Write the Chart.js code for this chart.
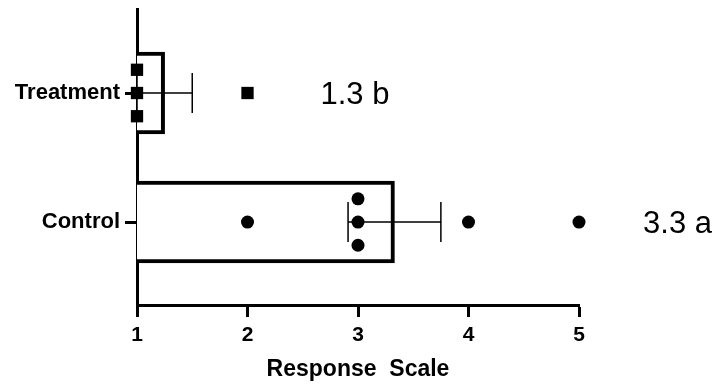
<!DOCTYPE html>
<html>
<head>
<meta charset="utf-8">
<script src="https://cdn.jsdelivr.net/npm/chart.js@4.4.1/dist/chart.umd.min.js"></script>
<style>
  html, body { margin: 0; padding: 0; background: #fff; }
  #wrap { width: 718px; height: 386px; }
</style>
</head>
<body>
<div id="wrap"><canvas id="chart"></canvas></div>
<script>
// données
const groups = ['Treatment', 'Control'];
const treatmentValues = [1, 1, 1, 2];
const controlValues = [2, 3, 3, 3, 4, 5];
const means = [1.25, 3.33];
const sems = [0.25, 0.42];
const meanLabels = ['1.3 b', '3.3 a'];
const labelAt = [2.66, 5.58];
const xTicks = [1, 2, 3, 4, 5];

const FONT = '"Liberation Sans", Arial, Helvetica, sans-serif';

// empile verticalement les valeurs identiques (comme un nuage de points)
function swarm(values, groupIndex) {
    const counts = {};
    values.forEach(v => counts[v] = (counts[v] || 0) + 1);
    const seen = {};
    return values.map(v => {
        const n = counts[v];
        const k = seen[v] = (seen[v] || 0) + 1;
        return { x: v, y: groupIndex + (k - 1 - (n - 1) / 2) * 0.18 };
    });
}

const errorBars = {
    id: 'errorBars',
    afterDatasetsDraw(chart) {
        const { ctx, scales: { x, y } } = chart;
        ctx.save();
        ctx.strokeStyle = '#000';
        ctx.lineWidth = 1.5;
        groups.forEach((g, i) => {
            const yc = y.getPixelForValue(i);
            const lo = x.getPixelForValue(means[i] - sems[i]);
            const hi = x.getPixelForValue(means[i] + sems[i]);
            ctx.beginPath();
            ctx.moveTo(lo, yc);
            ctx.lineTo(hi, yc);
            ctx.moveTo(lo, yc - 20);
            ctx.lineTo(lo, yc + 20);
            ctx.moveTo(hi, yc - 20);
            ctx.lineTo(hi, yc + 20);
            ctx.stroke();
        });
        ctx.fillStyle = '#000';
        ctx.font = '31px ' + FONT;
        ctx.textBaseline = 'middle';
        ctx.textAlign = 'left';
        groups.forEach((g, i) => {
            ctx.fillText(meanLabels[i], x.getPixelForValue(labelAt[i]), y.getPixelForValue(i) + 2);
        });
        ctx.restore();
    }
};

const ctx = document.getElementById('chart');
new Chart(ctx, {
    type: 'bar',
    data: {
        datasets: [
            {
                type: 'scatter',
                data: swarm(treatmentValues, 0),
                pointStyle: 'rect',
                pointRadius: 8.7,
                pointHoverRadius: 8.7,
                backgroundColor: '#000',
                borderWidth: 0,
                clip: false,
                order: 0
            },
            {
                type: 'scatter',
                data: swarm(controlValues, 1),
                pointStyle: 'circle',
                pointRadius: 6.5,
                pointHoverRadius: 6.5,
                backgroundColor: '#000',
                borderWidth: 0,
                clip: false,
                order: 0
            },
            {
                type: 'bar',
                data: means.map((m, i) => ({ x: m, y: i })),
                backgroundColor: '#fff',
                borderColor: '#000',
                borderWidth: 4,
                borderSkipped: false,
                barThickness: 82,
                order: 2
            }
        ]
    },
    options: {
        indexAxis: 'y',
        responsive: true,
        maintainAspectRatio: false,
        animation: false,
        layout: { padding: { top: 9, right: 139, left: 0, bottom: 0 } },
        plugins: { legend: { display: false }, tooltip: { enabled: false } },
        scales: {
            x: {
                type: 'linear',
                min: 1,
                max: 5,
                offset: false,
                afterBuildTicks: s => { s.ticks = xTicks.map(v => ({ value: v })); },
                afterFit: s => { s.height = 81; },
                ticks: { color: '#000', padding: 6, font: { family: FONT, size: 21, weight: 'bold' } },
                grid: { offset: false, drawOnChartArea: false, tickLength: 12, tickWidth: 3, tickColor: '#000' },
                border: { color: '#000', width: 3 },
                title: {
                    display: true,
                    text: 'Response  Scale',
                    color: '#000',
                    font: { family: FONT, size: 23, weight: 'bold' },
                    padding: { top: 0, bottom: 3 }
                }
            },
            y: {
                type: 'linear',
                reverse: true,
                min: -0.651,
                max: 1.643,
                offset: false,
                afterBuildTicks: s => { s.ticks = groups.map((g, i) => ({ value: i })); },
                afterFit: s => { s.width = 137; s.paddingTop = 0; s.paddingBottom = 0; },
                ticks: {
                    color: '#000',
                    padding: 5,
                    font: { family: FONT, size: 22, weight: 'bold' },
                    callback: v => groups[v]
                },
                grid: { offset: false, drawOnChartArea: false, tickLength: 12, tickWidth: 3, tickColor: '#000' },
                border: { color: '#000', width: 3 }
            }
        }
    },
    plugins: [errorBars]
});
</script>
</body>
</html>
